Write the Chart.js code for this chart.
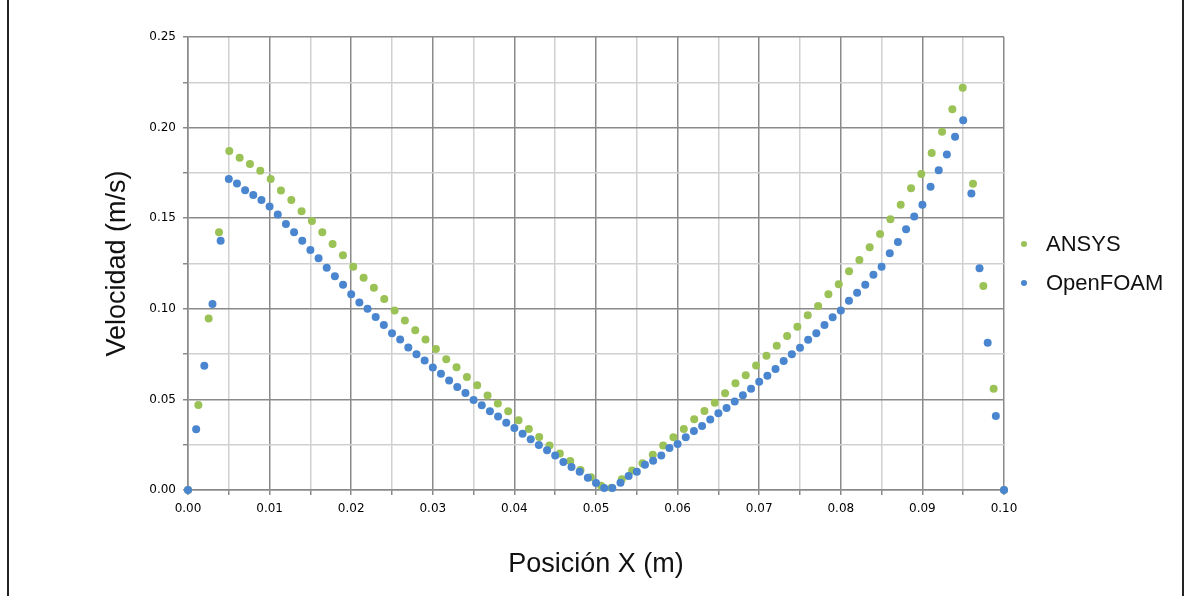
<!DOCTYPE html>
<html>
<head>
<meta charset="utf-8">
<title>Velocidad vs posición</title>
<script src="https://cdn.jsdelivr.net/npm/chart.js@4.4.0/dist/chart.umd.min.js"></script>
<style>
  html, body { margin: 0; padding: 0; background: #fff; }
  #wrap { position: relative; width: 1189px; height: 596px; overflow: hidden; }
  #frame { position: absolute; left: 7px; top: -6px; width: 1173px; height: 620px; border: 2px solid #222; pointer-events: none; }
  #velChart { position: absolute; left: 0; top: 0; }
</style>
</head>
<body>
<div id="wrap">
  <canvas id="velChart" width="1189" height="596"></canvas>
  <div id="frame"></div>
</div>
<script>
// ANSYS profile (80 samples across the channel)
const ansysX = [
  0, 0.00127, 0.00253, 0.00380, 0.00506, 0.00633, 0.00759, 0.00886, 0.01013, 0.01139,
  0.01266, 0.01392, 0.01519, 0.01646, 0.01772, 0.01899, 0.02025, 0.02152, 0.02278, 0.02405,
  0.02532, 0.02658, 0.02785, 0.02911, 0.03038, 0.03165, 0.03291, 0.03418, 0.03544, 0.03671,
  0.03797, 0.03924, 0.04051, 0.04177, 0.04304, 0.04430, 0.04557, 0.04684, 0.04810, 0.04937,
  0.05063, 0.05190, 0.05316, 0.05443, 0.05570, 0.05696, 0.05823, 0.05949, 0.06076, 0.06203,
  0.06329, 0.06456, 0.06582, 0.06709, 0.06835, 0.06962, 0.07089, 0.07215, 0.07342, 0.07468,
  0.07595, 0.07722, 0.07848, 0.07975, 0.08101, 0.08228, 0.08354, 0.08481, 0.08608, 0.08734,
  0.08861, 0.08987, 0.09114, 0.09241, 0.09367, 0.09494, 0.09620, 0.09747, 0.09873, 0.1
];
const ansysY = [
  0, 0.0469, 0.0947, 0.1422, 0.1871, 0.1834, 0.1799, 0.1762, 0.1716, 0.1653,
  0.1600, 0.1538, 0.1484, 0.1422, 0.1358, 0.1296, 0.1232, 0.1171, 0.1116, 0.1054,
  0.0991, 0.0936, 0.0882, 0.0830, 0.0778, 0.0721, 0.0677, 0.0624, 0.0578, 0.0522,
  0.0478, 0.0434, 0.0385, 0.0337, 0.0292, 0.0246, 0.0202, 0.0160, 0.0110, 0.0070,
  0.0024, 0.0012, 0.0059, 0.0107, 0.0147, 0.0195, 0.0245, 0.0291, 0.0337, 0.0390,
  0.0436, 0.0482, 0.0534, 0.0589, 0.0633, 0.0687, 0.0741, 0.0796, 0.0850, 0.0901,
  0.0964, 0.1015, 0.1080, 0.1135, 0.1207, 0.1269, 0.1340, 0.1413, 0.1494, 0.1574,
  0.1665, 0.1744, 0.1860, 0.1977, 0.2101, 0.2220, 0.1690, 0.1126, 0.0559, 0
];

// OpenFOAM profile (101 samples, 1 mm apart)
const foamX = [
  0, 0.001, 0.002, 0.003, 0.004, 0.005, 0.006, 0.007, 0.008, 0.009,
  0.010, 0.011, 0.012, 0.013, 0.014, 0.015, 0.016, 0.017, 0.018, 0.019,
  0.020, 0.021, 0.022, 0.023, 0.024, 0.025, 0.026, 0.027, 0.028, 0.029,
  0.030, 0.031, 0.032, 0.033, 0.034, 0.035, 0.036, 0.037, 0.038, 0.039,
  0.040, 0.041, 0.042, 0.043, 0.044, 0.045, 0.046, 0.047, 0.048, 0.049,
  0.050, 0.051, 0.052, 0.053, 0.054, 0.055, 0.056, 0.057, 0.058, 0.059,
  0.060, 0.061, 0.062, 0.063, 0.064, 0.065, 0.066, 0.067, 0.068, 0.069,
  0.070, 0.071, 0.072, 0.073, 0.074, 0.075, 0.076, 0.077, 0.078, 0.079,
  0.080, 0.081, 0.082, 0.083, 0.084, 0.085, 0.086, 0.087, 0.088, 0.089,
  0.090, 0.091, 0.092, 0.093, 0.094, 0.095, 0.096, 0.097, 0.098, 0.099,
  0.100
];
const foamY = [
  0, 0.0335, 0.0686, 0.1026, 0.1376, 0.1716, 0.1691, 0.1654, 0.1628, 0.1600,
  0.1565, 0.1521, 0.1468, 0.1422, 0.1376, 0.1325, 0.1279, 0.1227, 0.1179, 0.1133,
  0.1080, 0.1035, 0.1000, 0.0955, 0.0910, 0.0865, 0.0830, 0.0786, 0.0749, 0.0714,
  0.0676, 0.0641, 0.0604, 0.0568, 0.0535, 0.0497, 0.0468, 0.0434, 0.0405, 0.0371,
  0.0342, 0.0310, 0.0280, 0.0248, 0.0219, 0.0190, 0.0155, 0.0127, 0.0101, 0.0067,
  0.0039, 0.0011, 0.0011, 0.0040, 0.0077, 0.0101, 0.0140, 0.0162, 0.0191, 0.0232,
  0.0254, 0.0291, 0.0326, 0.0353, 0.0389, 0.0423, 0.0452, 0.0489, 0.0523, 0.0559,
  0.0598, 0.0631, 0.0668, 0.0712, 0.0749, 0.0785, 0.0829, 0.0865, 0.0911, 0.0953,
  0.0990, 0.1045, 0.1089, 0.1133, 0.1188, 0.1232, 0.1306, 0.1368, 0.1439, 0.1509,
  0.1574, 0.1674, 0.1764, 0.1851, 0.1950, 0.2040, 0.1637, 0.1224, 0.0813, 0.0408,
  0
];

const seriesNames = ["ANSYS", "OpenFOAM"];
const seriesColors = ["#9bc256", "#4a86cf"];

// axis ranges: labelled every xLabelStep / yLabelStep, gridlines every half step
const xMin = 0, xMax = 0.1, xLabelStep = 0.01;
const yMin = 0, yMax = 0.25, yLabelStep = 0.05;

const majorGrid = "#8a8a8a";
const minorGrid = "#d0d0d0";

function toPoints(xs, ys) {
    return xs.map((x, i) => ({ x: x, y: ys[i] }));
}

function isMajor(value, step) {
    return Math.round(value / (step / 2)) % 2 === 0;
}

// legend drawn to the right of the plot area, ANSYS first
const sideLegend = {
    id: "sideLegend",
    afterDraw(chart) {
        const { ctx, chartArea } = chart;
        const items = chart.data.datasets.slice().reverse();
        const rowH = 39;
        const y0 = (chartArea.top + chartArea.bottom) / 2 - rowH * (items.length - 1) / 2;
        ctx.save();
        ctx.font = '22px "Liberation Sans", Arial, sans-serif';
        ctx.textBaseline = "middle";
        items.forEach((ds, i) => {
            const y = y0 + i * rowH;
            ctx.fillStyle = ds.backgroundColor;
            ctx.beginPath();
            ctx.arc(chartArea.right + 20, y, 3, 0, Math.PI * 2);
            ctx.fill();
            ctx.fillStyle = "#111";
            ctx.fillText(ds.label, chartArea.right + 42, y + 1);
        });
        ctx.restore();
    }
};

document.addEventListener("DOMContentLoaded", () => {
    let canvas = document.getElementById("velChart");
    let ctx = canvas.getContext("2d");

    const tickFont = { family: '"DejaVu Sans", Verdana, sans-serif', size: 12 };
    const titleFont = { family: '"Liberation Sans", Arial, sans-serif', size: 27 };

    // OpenFOAM is listed first so its dots are painted over the ANSYS ones
    window.velChart = new Chart(ctx, {
        type: "scatter",
        data: {
            datasets: [
                {
                    label: seriesNames[1],
                    data: toPoints(foamX, foamY),
                    backgroundColor: seriesColors[1],
                    borderWidth: 0,
                    pointRadius: 4,
                    pointHoverRadius: 4,
                    clip: false
                },
                {
                    label: seriesNames[0],
                    data: toPoints(ansysX, ansysY),
                    backgroundColor: seriesColors[0],
                    borderWidth: 0,
                    pointRadius: 4,
                    pointHoverRadius: 4,
                    clip: false
                }
            ]
        },
        options: {
            responsive: false,
            animation: false,
            layout: { padding: { top: 37, right: 185, bottom: 0, left: 0 } },
            plugins: {
                legend: { display: false },
                tooltip: { enabled: false }
            },
            scales: {
                x: {
                    type: "linear",
                    min: xMin,
                    max: xMax,
                    ticks: {
                        stepSize: xLabelStep / 2,
                        autoSkip: false,
                        maxRotation: 0,
                        padding: 7,
                        color: "#000",
                        font: tickFont,
                        callback: v => isMajor(v, xLabelStep) ? v.toFixed(2) : ""
                    },
                    grid: {
                        color: c => isMajor(c.tick.value, xLabelStep) ? majorGrid : minorGrid,
                        tickColor: majorGrid,
                        lineWidth: 1.5,
                        tickLength: 5
                    },
                    border: { color: majorGrid, width: 1.5 },
                    title: {
                        display: true,
                        text: "Posición X (m)",
                        color: "#111",
                        font: titleFont,
                        padding: { top: 0, bottom: 15 }
                    },
                    afterFit: s => { s.height = 106; }
                },
                y: {
                    type: "linear",
                    min: yMin,
                    max: yMax,
                    ticks: {
                        stepSize: yLabelStep / 2,
                        autoSkip: false,
                        padding: 7,
                        color: "#000",
                        font: tickFont,
                        callback: v => isMajor(v, yLabelStep) ? v.toFixed(2) : ""
                    },
                    grid: {
                        color: c => isMajor(c.tick.value, yLabelStep) ? majorGrid : minorGrid,
                        tickColor: majorGrid,
                        lineWidth: 1.5,
                        tickLength: 5
                    },
                    border: { color: majorGrid, width: 1.5 },
                    title: {
                        display: true,
                        text: "Velocidad (m/s)",
                        color: "#111",
                        font: titleFont,
                        padding: { top: 101, bottom: 0 }
                    },
                    afterFit: s => { s.width = 188; }
                }
            }
        },
        plugins: [sideLegend]
    });
});
</script>
</body>
</html>
